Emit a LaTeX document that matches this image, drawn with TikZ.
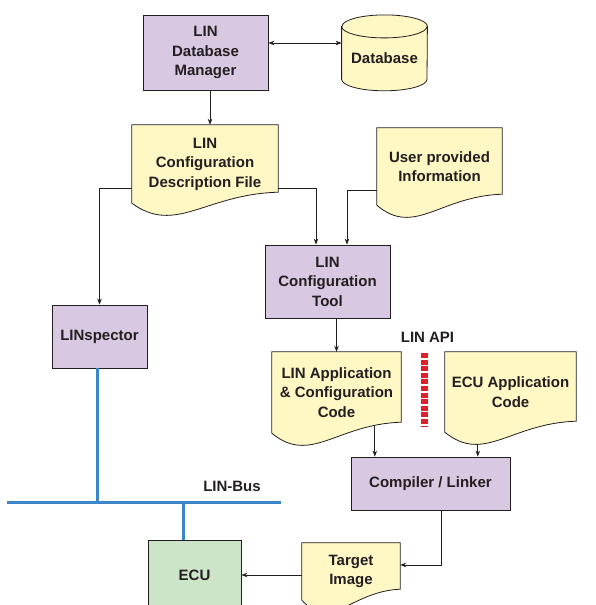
\documentclass[tikz,border=0pt]{standalone}
\usepackage{fontspec}
\setmainfont{Liberation Sans}
\usepackage{tikz}
\usetikzlibrary{positioning,arrows.meta,calc,backgrounds}

\definecolor{boxpurple}{RGB}{216,200,225}
\definecolor{docyellow}{RGB}{255,247,196}
\definecolor{ecugreen}{RGB}{204,228,200}
\definecolor{busblue}{RGB}{58,134,200}
\definecolor{apired}{RGB}{222,32,40}
\definecolor{inkgray}{RGB}{35,31,32}

\tikzset{
  txt/.style={font=\fontsize{15}{19.5}\selectfont\bfseries, text=inkgray, align=center, inner sep=0pt},
  toolbox/.style={txt, draw=inkgray, line width=0.8pt, fill=boxpurple},
  docshape/.style={draw=inkgray, line width=0.8pt, fill=docyellow},
  arr/.style={draw=inkgray, line width=0.7pt, >={Stealth[length=6pt,width=4.5pt]}},
  bus/.style={busblue, line width=3pt},
}

% paper sheet with a wavy lower edge round a node
\newcommand{\docpath}[1]{%
  \filldraw[docshape] (#1.north west) -- (#1.north east) -- ($(#1.south east)+(0,-11)$)
    .. controls ($(#1.south west)!0.5!(#1.south east)+(0,-9)$) and ($(#1.south west)!0.3!(#1.south east)+(0,32)$) .. (#1.south west) -- cycle;}

\begin{document}
\begin{tikzpicture}[x=1pt,y=-1pt]
\useasboundingbox (0,0) rectangle (595,605);

% boxes and sheets
\node[toolbox, minimum width=125pt, minimum height=75pt] (dbm) at (205.5,52.5) {LIN\\Database\\Manager};
\node[txt, minimum width=85.4pt, minimum height=64pt] (db) at (384.5,58.6) {Database};
\node[txt, minimum width=146pt, minimum height=78pt] (cdf) at (205,164) {LIN\\Configuration\\Description File};
\node[txt, minimum width=125pt, minimum height=77pt] (upi) at (439.5,166.5) {User provided\\Information};
\node[toolbox, minimum width=125pt, minimum height=73pt] (tool) at (327.5,281.5) {LIN\\Configuration\\Tool};
\node[toolbox, minimum width=95pt, minimum height=63pt] (lins) at (99.5,336.5) {LINspector};
\node[txt, minimum width=129pt, minimum height=81pt] (appcode) at (336.5,392.5) {LIN Application\\\& Configuration\\Code};
\node[txt, minimum width=131pt, minimum height=80pt] (ecucode) at (510.5,392) {ECU Application\\Code};
\node[toolbox, minimum width=159pt, minimum height=53pt] (cl) at (430.5,483.5) {Compiler / Linker};
\node[txt, minimum width=98pt, minimum height=57pt] (target) at (351,571.5) {Target\\Image};
\node[toolbox, fill=ecugreen, minimum width=93pt, minimum height=70pt] (ecu) at (194.5,575) {ECU};
\node[txt] (api) at (427.5,337) {LIN API};
\node[txt] (buslabel) at (232,486) {LIN-Bus};

\begin{scope}[on background layer]
  \foreach \d in {cdf,upi,appcode,ecucode,target} {\docpath{\d}}
  % database drum
  \filldraw[docshape] (db.north west) -- ([yshift=11.5pt]db.south west)
    arc[start angle=180, end angle=360, x radius=42.7pt, y radius=11.5pt] -- (db.north east)
    arc[start angle=0, end angle=180, x radius=42.7pt, y radius=11.5pt] -- cycle;
  \draw[docshape, fill=none] (db.north west) arc[start angle=180, end angle=360, x radius=42.7pt, y radius=11.5pt];
\end{scope}

% connectors
\draw[arr,<->] ([yshift=9.5pt]dbm.east) coordinate (d1) -- (d1 -| db.west);
\draw[arr,->] ([xshift=4.5pt]dbm.south) coordinate (d2) -- (d2 |- cdf.north);
\draw[arr,->] ([yshift=-24pt]cdf.east) -| ([xshift=-11.5pt]tool.north);
\draw[arr,->] ([yshift=-23.5pt]upi.west) -| ([xshift=19.5pt]tool.north);
\draw[arr,->] ([yshift=-24pt]cdf.west) -| (lins.north);
\draw[arr,->] (tool.south -| appcode.north) -- (appcode.north);
\draw[arr,->] ($(appcode.south west)+(103,-7)$) coordinate (d3) -- (d3 |- cl.north);
\draw[arr,->] ($(ecucode.south west)+(33,12)$) coordinate (d4) -- (d4 |- cl.north);
\draw[arr,->] ([xshift=10.5pt]cl.south) |- ([yshift=6.5pt]target.east);
\draw[arr,->] (target.west |- ecu.east) -- (ecu.east);

% bus
\coordinate (busw) at (7,502);
\coordinate (buse) at (281,502);
\draw[bus] (busw) -- (buse);
\draw[bus] ([xshift=-2.5pt]lins.south) coordinate (d5) -- (d5 |- busw);
\draw[bus] ([xshift=-11pt]ecu.north) coordinate (d6) -- (d6 |- busw);

% API separator
\draw[apired, line width=7pt, dash pattern=on 5pt off 1.6pt] (424.5,353) -- (424.5,427);
\end{tikzpicture}
\end{document}
